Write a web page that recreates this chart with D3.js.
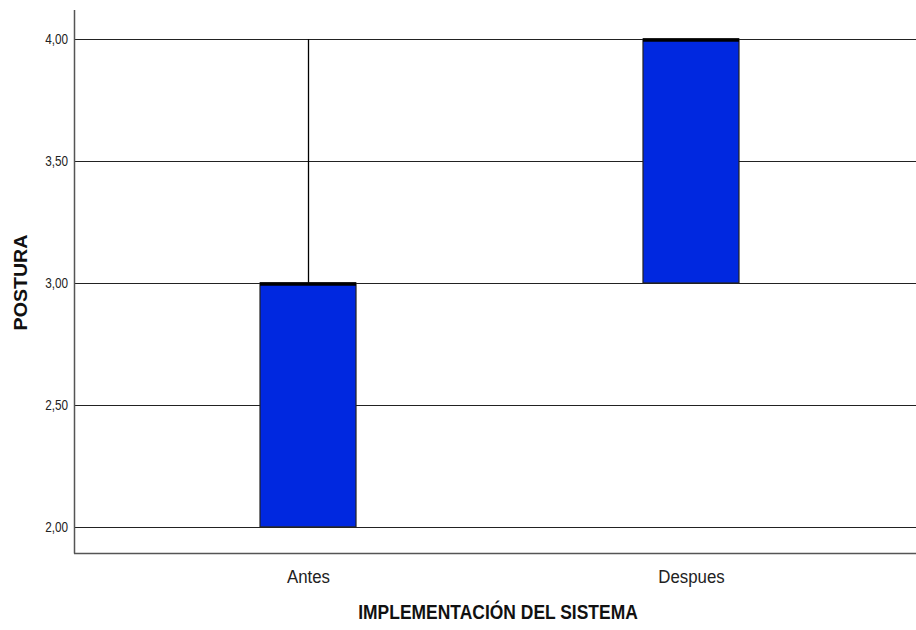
<!DOCTYPE html>
<html>
<head>
<meta charset="utf-8">
<script src="https://cdn.jsdelivr.net/npm/d3@7"></script>
<style>
  html, body { margin: 0; padding: 0; background: #fff; }
  svg { display: block; }
  text { font-family: "Liberation Sans", Arial, sans-serif; }
</style>
</head>
<body>
<svg id="chart" width="916" height="630"></svg>
<script>
// Box plot summary per group
const categories = ["Antes", "Despues"];
const minValues    = [2.00, 3.00];
const q1Values     = [2.00, 3.00];
const medianValues = [3.00, 4.00];
const q3Values     = [3.00, 4.00];
const maxValues    = [4.00, 4.00];
const yTicks = [2.00, 2.50, 3.00, 3.50, 4.00];

const svg = d3.select("#chart");
const plotLeft = 74, plotRight = 925, plotTop = 10, plotBottom = 553;

const y = d3.scaleLinear().domain([1.893, 4.119]).range([plotBottom, plotTop]);
const x = d3.scalePoint().domain(categories).range([plotLeft, plotRight]).padding(0.611);
const boxW = 96;

const fmt = v => d3.format(".2f")(v).replace(".", ",");

// gridlines
svg.append("g").selectAll("line").data(yTicks).join("line")
  .attr("x1", plotLeft).attr("x2", 916)
  .attr("y1", d => Math.round(y(d)) + 0.5).attr("y2", d => Math.round(y(d)) + 0.5)
  .attr("stroke", "#222").attr("stroke-width", 1);

// y axis (labels slightly condensed)
const yAxis = d3.axisLeft(y).tickValues(yTicks).tickFormat(fmt).tickSize(0).tickPadding(6);
const gy = svg.append("g").attr("transform", `translate(${plotLeft},0)`).call(yAxis);
gy.select(".domain").remove();
gy.selectAll("text").attr("font-size", 14).attr("fill", "#222")
  .attr("x", -6 / 0.84).attr("transform", "scale(0.84,1)");

// x axis
const xAxis = d3.axisBottom(x).tickSize(0);
const gx = svg.append("g").attr("transform", `translate(0,${plotBottom})`).call(xAxis);
gx.select(".domain").remove();
gx.selectAll("text").attr("font-size", 18.5).attr("fill", "#222")
  .attr("y", 30).attr("dy", 0).attr("transform", "scale(0.91,1)");

// axis lines
svg.append("line").attr("x1", plotLeft + 0.5).attr("x2", plotLeft + 0.5).attr("y1", plotTop).attr("y2", plotBottom + 0.5)
  .attr("stroke", "#555").attr("stroke-width", 1.5);
svg.append("line").attr("x1", plotLeft).attr("x2", 916).attr("y1", plotBottom + 0.5).attr("y2", plotBottom + 0.5)
  .attr("stroke", "#555").attr("stroke-width", 1.5);

const data = categories.map((c, i) => ({
  c, min: minValues[i], q1: q1Values[i], med: medianValues[i], q3: q3Values[i], max: maxValues[i]
}));

const g = svg.append("g");
// whiskers
data.forEach(d => {
  const cx = Math.round(x(d.c)) + 0.5;
  if (d.max > d.q3) {
    g.append("line").attr("x1", cx).attr("x2", cx).attr("y1", y(d.q3)).attr("y2", y(d.max))
      .attr("stroke", "#000").attr("stroke-width", 1.3);
  }
  if (d.min < d.q1) {
    g.append("line").attr("x1", cx).attr("x2", cx).attr("y1", y(d.q1)).attr("y2", y(d.min))
      .attr("stroke", "#000").attr("stroke-width", 1.3);
  }
});
// boxes
g.selectAll("rect.box").data(data).join("rect").attr("class", "box")
  .attr("x", d => x(d.c) - boxW / 2)
  .attr("width", boxW)
  .attr("y", d => y(d.q3))
  .attr("height", d => y(d.q1) - y(d.q3))
  .attr("fill", "#0028E0").attr("stroke", "#222").attr("stroke-width", 1.2);
// medians
g.selectAll("line.med").data(data).join("line").attr("class", "med")
  .attr("x1", d => x(d.c) - boxW / 2).attr("x2", d => x(d.c) + boxW / 2)
  .attr("y1", d => y(d.med) + 1).attr("y2", d => y(d.med) + 1)
  .attr("stroke", "#000").attr("stroke-width", 3.5);

// titles
svg.append("text").attr("transform", "translate(498,619) scale(0.886,1)")
  .attr("text-anchor", "middle")
  .attr("font-size", 19.7).attr("font-weight", "bold").attr("fill", "#111")
  .text("IMPLEMENTACIÓN DEL SISTEMA");
svg.append("text").attr("transform", `translate(27,${(plotTop + plotBottom) / 2 + 1}) rotate(-90) scale(1,0.95)`)
  .attr("text-anchor", "middle")
  .attr("font-size", 19.6).attr("font-weight", "bold").attr("fill", "#111")
  .text("POSTURA");
</script>
</body>
</html>
